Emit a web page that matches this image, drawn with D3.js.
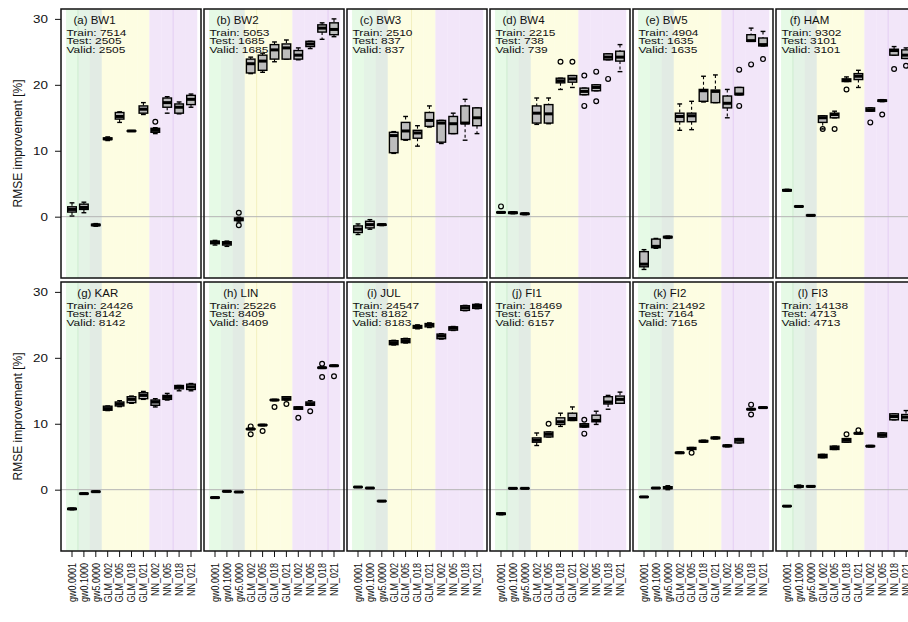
<!DOCTYPE html>
<html><head><meta charset="utf-8">
<script src="https://cdn.jsdelivr.net/npm/d3@7"></script>
<style>
body{margin:0;background:#fff}
svg{display:block}
text{font-family:"Liberation Sans",Arial,sans-serif;fill:#111}
</style>
</head><body>
<svg id="chart" width="908" height="622"></svg>
<script>
// ---------------- data ----------------
const categories = ["gw0.0001","gw0.1000","gw5.0000","GLM_002","GLM_005","GLM_018","GLM_021","NN_002","NN_005","NN_018","NN_021"];
const tickLabels = ["gw0.0001","gw0.1000","gw5.0000","GLM_002","GLM_005","GLM_018","GLM_021","NN_002","NN_005","NN_018","NN_021"];
const bandGroups = ["g1","g2","g3","glm","glm","glm","glm","nn","nn","nn","nn"];
const panelTitles = ["(a) BW1","(b) BW2","(c) BW3","(d) BW4","(e) BW5","(f) HAM","(g) KAR","(h) LIN","(i) JUL","(j) FI1","(k) FI2","(l) FI3"];
const trainN = [7514,5053,2510,2215,4904,9302,24426,25226,24547,18469,21492,14138];
const testN  = [2505,1685,837,738,1635,3101,8142,8409,8182,6157,7164,4713];
const validN = [2505,1685,837,739,1635,3101,8142,8409,8183,6157,7165,4713];
const yTicks = [0,10,20,30];
const markerLines = [[1,9],[4,10],[5],[1],[8],[1,9]]; // per column: boundary after box k

// box stats per panel: [lowWhisker, q1, median, q3, highWhisker]
const statsBW1 = [[0.1,0.7,1.1,1.5,2.1],[0.6,1.1,1.4,1.9,2.2],[-1.45,-1.35,-1.25,-1.15,-1.05],[11.55,11.7,11.8,11.95,12.1],[14.3,14.8,15.2,15.8,15.9],[12.95,12.98,13.0,13.02,13.05],[15.5,15.7,16.3,16.8,17.3],[12.6,12.8,13.1,13.4,13.5],[15.7,16.6,17.3,18.0,18.2],[15.6,15.7,16.6,17.1,17.4],[16.6,17.0,17.8,18.4,18.6]];
const statsBW2 = [[-4.3,-4.1,-3.9,-3.7,-3.6],[-4.5,-4.3,-4.0,-3.8,-3.7],[-0.8,-0.6,-0.4,-0.2,-0.1],[21.7,21.8,23.2,23.9,24.2],[21.9,22.2,23.6,24.5,24.8],[23.5,23.9,25.3,26.1,26.5],[23.9,23.9,25.6,26.2,26.8],[23.8,23.9,24.5,25.2,25.6],[25.5,25.8,26.2,26.6,26.6],[26.9,28.0,28.6,29.1,29.4],[27.3,27.6,28.4,29.4,30.0]];
const statsBW3 = [[-2.7,-2.4,-1.9,-1.4,-1.1],[-1.9,-1.7,-1.2,-0.7,-0.45],[-1.35,-1.3,-1.2,-1.15,-1.1],[9.6,9.7,12.3,12.8,12.9],[11.6,11.7,13.0,14.3,15.2],[10.7,11.9,12.7,13.1,13.8],[13.6,13.7,14.6,15.8,16.8],[11.1,11.3,14.2,14.6,14.6],[12.6,12.6,14.1,15.2,15.7],[11.6,14.1,14.2,16.8,17.8],[12.6,13.8,15.0,16.5,16.5]];
const statsBW4 = [[0.55,0.6,0.65,0.7,0.75],[0.45,0.5,0.6,0.7,0.75],[0.3,0.35,0.45,0.5,0.55],[14.0,14.2,15.7,16.8,18.0],[14.1,14.2,15.6,17.0,18.0],[19.3,20.3,20.6,21.0,21.0],[19.6,20.4,20.9,21.4,21.4],[18.5,18.5,19.0,19.5,19.5],[19.1,19.1,19.6,20.0,20.0],[23.8,23.8,24.2,24.7,24.7],[22.0,23.6,24.2,25.1,26.1]];
const statsBW5 = [[-8.0,-7.6,-7.2,-5.3,-5.0],[-4.8,-4.7,-4.5,-3.4,-3.3],[-3.3,-3.2,-3.1,-3.0,-2.95],[13.1,14.4,15.2,15.7,17.1],[13.2,14.4,15.3,15.7,17.5],[17.4,17.5,19.1,19.3,21.3],[17.3,17.3,19.0,19.2,21.5],[15.0,16.5,17.2,18.3,19.3],[18.5,18.5,18.6,19.6,19.6],[26.6,26.6,26.7,27.6,28.6],[25.9,25.9,26.1,27.1,28.1]];
const statsHAM = [[3.85,3.9,4.0,4.1,4.15],[1.45,1.5,1.55,1.6,1.65],[0.1,0.15,0.2,0.25,0.3],[13.3,14.3,15.0,15.3,15.3],[15.0,15.0,15.5,15.7,16.0],[20.5,20.5,20.7,20.9,21.2],[19.6,20.8,21.3,21.7,22.2],[16.0,16.0,16.2,16.5,16.5],[17.45,17.5,17.6,17.7,17.75],[24.5,24.5,25.2,25.4,25.8],[24.0,24.0,24.5,25.3,25.6]];
const statsKAR = [[-3.05,-3.0,-2.9,-2.85,-2.8],[-0.7,-0.65,-0.6,-0.55,-0.5],[-0.4,-0.35,-0.3,-0.25,-0.2],[12.0,12.05,12.3,12.66,12.7],[12.6,12.7,13.0,13.3,13.5],[13.1,13.2,13.7,14.1,14.2],[13.7,13.8,14.3,14.7,14.9],[12.55,12.8,13.3,13.6,13.8],[13.6,13.7,14.0,14.3,14.6],[15.0,15.3,15.6,15.8,15.8],[15.0,15.2,15.6,16.0,16.1]];
const statsLIN = [[-1.3,-1.25,-1.2,-1.15,-1.1],[-0.3,-0.28,-0.25,-0.22,-0.2],[-0.4,-0.38,-0.35,-0.32,-0.3],[9.1,9.15,9.2,9.25,9.3],[9.7,9.75,9.8,9.85,9.9],[13.5,13.55,13.6,13.65,13.7],[13.6,13.6,13.8,14.1,14.1],[12.2,12.2,12.4,12.55,12.55],[12.8,12.8,13.0,13.3,13.5],[18.4,18.45,18.5,18.55,18.6],[18.7,18.75,18.8,18.85,18.9]];
const statsJUL = [[0.35,0.38,0.4,0.42,0.45],[0.2,0.22,0.25,0.27,0.3],[-1.8,-1.77,-1.73,-1.7,-1.67],[21.95,22.0,22.3,22.6,22.65],[22.25,22.3,22.6,22.9,22.95],[24.4,24.5,24.7,24.9,25.0],[24.6,24.7,25.0,25.2,25.3],[22.85,22.9,23.3,23.6,23.65],[24.15,24.2,24.5,24.7,24.75],[27.15,27.2,27.6,27.9,27.95],[27.45,27.5,27.8,28.1,28.15]];
const statsFI1 = [[-3.8,-3.75,-3.65,-3.55,-3.5],[0.15,0.17,0.2,0.23,0.25],[0.15,0.17,0.2,0.23,0.25],[6.7,7.2,7.5,7.85,8.6],[8.0,8.0,8.4,8.75,8.75],[9.6,9.9,10.3,10.9,11.6],[10.5,10.5,10.8,11.6,12.55],[9.5,9.5,9.7,10.0,10.0],[9.9,10.3,10.5,11.3,11.9],[12.2,13.0,13.3,14.1,14.3],[13.1,13.1,13.7,14.2,14.8]];
const statsFI2 = [[-1.15,-1.12,-1.1,-1.07,-1.05],[0.2,0.22,0.25,0.28,0.3],[0.0,0.15,0.3,0.45,0.6],[5.5,5.55,5.6,5.65,5.7],[6.1,6.1,6.25,6.4,6.4],[7.2,7.25,7.35,7.45,7.5],[7.7,7.75,7.85,7.95,8.0],[6.5,6.55,6.65,6.75,6.8],[7.1,7.1,7.5,7.75,7.75],[12.1,12.15,12.2,12.25,12.3],[12.35,12.4,12.45,12.5,12.55]];
const statsFI3 = [[-2.55,-2.52,-2.5,-2.47,-2.45],[0.3,0.4,0.5,0.6,0.7],[0.4,0.45,0.5,0.55,0.6],[4.85,4.85,5.1,5.35,5.35],[6.1,6.1,6.35,6.6,6.6],[7.2,7.2,7.5,7.75,7.75],[8.45,8.5,8.55,8.6,8.65],[6.5,6.55,6.6,6.65,6.7],[8.0,8.0,8.3,8.6,8.6],[10.6,10.6,11.1,11.5,11.5],[10.5,10.5,11.0,11.4,12.0]];

// outliers per panel, per box
const outBW1 = [[],[],[],[],[],[],[],[14.4],[],[],[]];
const outBW2 = [[],[],[0.6,-1.3],[],[],[],[],[],[],[],[]];
const outBW3 = [[],[],[],[],[],[],[],[],[],[],[]];
const outBW4 = [[1.56],[],[],[],[],[23.5],[23.5],[21.4,16.8],[22.0,17.5],[20.9],[]];
const outBW5 = [[],[],[],[],[],[],[],[],[22.3,16.8],[23.1],[23.9]];
const outHAM = [[],[],[],[13.3],[13.3],[19.3],[],[14.3],[15.5],[22.4],[22.9]];
const outKAR = [[],[],[],[],[],[],[],[],[],[],[]];
const outLIN = [[],[],[],[9.6,8.4],[8.9],[12.55],[13.0],[10.9],[11.9],[19.1,17.1],[17.2]];
const outJUL = [[],[],[],[],[],[],[],[],[],[],[]];
const outFI1 = [[],[],[],[],[10.0],[],[],[10.6,8.5],[],[],[]];
const outFI2 = [[],[],[],[],[5.6],[],[],[],[],[12.9,11.4],[]];
const outFI3 = [[],[],[],[],[],[8.4],[9.0],[],[],[],[]];

const panelStats = [statsBW1,statsBW2,statsBW3,statsBW4,statsBW5,statsHAM,statsKAR,statsLIN,statsJUL,statsFI1,statsFI2,statsFI3];
const panelOut = [outBW1,outBW2,outBW3,outBW4,outBW5,outHAM,outKAR,outLIN,outJUL,outFI1,outFI2,outFI3];

// ---------------- drawing ----------------
const bandColors = {g1:"#e6fae6", g2:"#e4f3e6", g3:"#e2ebe4", glm:"#fdfde2", nn:"#f2e6f9"};
const markColors = {g1:"#cdeccf", g2:"#cfe6d3", g3:"#cfdcd2", glm:"#f3f0bf", nn:"#e3ccf3"};
const SX = 1.22; // horizontal text stretch
const FONT = '"Liberation Sans",Arial,sans-serif';
const colX0 = 61, colStep = 143, panelW = 140;
const rowTop = [9, 282], panelH = 269;
const yDomain = [-9.3, 31.5];

const svg = d3.select("#chart");
const gBands = svg.append("g"), gZero = svg.append("g"), gBoxes = svg.append("g"),
      gFrame = svg.append("g"), gAxes = svg.append("g"), gText = svg.append("g");

panelStats.forEach((stats, p) => {
  const col = p % 6, row = Math.floor(p / 6);
  const left = colX0 + col * colStep, top = rowTop[row];
  const x = d3.scaleBand().domain(categories).range([left + 5.05, left + 5.05 + 11 * 11.9]).padding(0);
  const y = d3.scaleLinear().domain(yDomain).range([top + panelH, top]);
  const bw = x.bandwidth();

  // background bands
  gBands.selectAll(null).data(categories).enter().append("rect")
    .attr("x", d => x(d)).attr("width", bw + 0.3)
    .attr("y", top).attr("height", panelH)
    .attr("fill", (d, i) => bandColors[bandGroups[i]]);
  gBands.selectAll(null).data(markerLines[col]).enter().append("line")
    .attr("x1", k => x(categories[k])).attr("x2", k => x(categories[k]))
    .attr("y1", top).attr("y2", top + panelH)
    .attr("stroke", k => markColors[bandGroups[k - 1]]).attr("stroke-width", 1);

  // zero line
  if (col === 0) {
    gZero.append("line").attr("x1", left).attr("x2", 908)
      .attr("y1", y(0)).attr("y2", y(0)).attr("stroke", "#b4b4b4").attr("stroke-width", 1);
  }

  // boxes
  const boxW = 8.6, capW = 4.8;
  stats.forEach((s, i) => {
    const cx = x(categories[i]) + bw / 2;
    const g = gBoxes.append("g");
    g.append("line").attr("x1", cx).attr("x2", cx).attr("y1", y(s[4])).attr("y2", y(s[3]))
      .attr("stroke", "#000").attr("stroke-width", 1.1).attr("stroke-dasharray", "3,2.5");
    g.append("line").attr("x1", cx).attr("x2", cx).attr("y1", y(s[1])).attr("y2", y(s[0]))
      .attr("stroke", "#000").attr("stroke-width", 1.1).attr("stroke-dasharray", "3,2.5");
    [s[0], s[4]].forEach(v => g.append("line").attr("x1", cx - capW / 2).attr("x2", cx + capW / 2)
      .attr("y1", y(v)).attr("y2", y(v)).attr("stroke", "#000").attr("stroke-width", 1.4));
    g.append("rect").attr("x", cx - boxW / 2).attr("width", boxW)
      .attr("y", y(s[3])).attr("height", Math.max(0.3, y(s[1]) - y(s[3])))
      .attr("fill", "#bdbdbd").attr("stroke", "#000").attr("stroke-width", 1.4);
    g.append("line").attr("x1", cx - boxW / 2).attr("x2", cx + boxW / 2)
      .attr("y1", y(s[2])).attr("y2", y(s[2])).attr("stroke", "#000").attr("stroke-width", 3);
    g.selectAll("circle").data(panelOut[p][i]).enter().append("circle")
      .attr("cx", cx).attr("cy", v => y(v)).attr("r", 2.4)
      .attr("fill", "none").attr("stroke", "#000").attr("stroke-width", 1.2);
  });

  // frame
  gFrame.append("rect").attr("x", left).attr("y", top).attr("width", panelW).attr("height", panelH)
    .attr("fill", "none").attr("stroke", "#111").attr("stroke-width", 1.5);

  // y axis (first column)
  if (col === 0) {
    const ax = gAxes.append("g").attr("transform", `translate(${left},0)`)
      .call(d3.axisLeft(y).tickValues(yTicks).tickSize(6).tickPadding(0));
    ax.select(".domain").remove();
    ax.selectAll(".tick line").attr("stroke", "#111");
    ax.selectAll(".tick text").attr("x", -13 / SX).attr("dy", "0.35em")
      .attr("transform", `scale(${SX},1)`).attr("font-size", 11)
      .attr("font-family", FONT).attr("fill", "#111");
    gText.append("text").attr("text-anchor", "middle").attr("font-size", 12)
      .attr("transform", `translate(22,${top + panelH / 2}) rotate(-90) scale(1,1.12)`)
      .text("RMSE improvement [%]");
  }

  // x axis (bottom row)
  if (row === 1) {
    const ax = gAxes.append("g").attr("transform", `translate(0,${top + panelH})`)
      .call(d3.axisBottom(x).tickSize(6).tickFormat((d, i) => tickLabels[i]));
    ax.select(".domain").remove();
    ax.selectAll(".tick line").attr("stroke", "#111");
    ax.selectAll(".tick text").attr("x", 0).attr("y", 0).attr("dy", "0.35em")
      .attr("text-anchor", "end").attr("font-size", 9)
      .attr("font-family", FONT).attr("fill", "#111")
      .attr("transform", `translate(0,12) rotate(-90) scale(1,${SX})`);
  }

  // legend-like text block
  const bx = left + 5.5;
  const lines = [`Train: ${trainN[p]}`, `Test: ${testN[p]}`, `Valid: ${validN[p]}`];
  const offs = [26.5, 35.3, 44.3];
  let maxW = 0;
  lines.forEach((t, k) => {
    const tx = gText.append("text").attr("font-size", 9.8)
      .attr("transform", `translate(${bx},${top + offs[k]}) scale(${SX},1)`).text(t);
    maxW = Math.max(maxW, tx.node().getComputedTextLength() * SX);
  });
  gText.append("text").attr("font-size", 11.5).attr("text-anchor", "middle")
    .attr("transform", `translate(${bx + maxW / 2 - 2},${top + 15})`)
    .text(panelTitles[p]);
});
</script>
</body></html>
